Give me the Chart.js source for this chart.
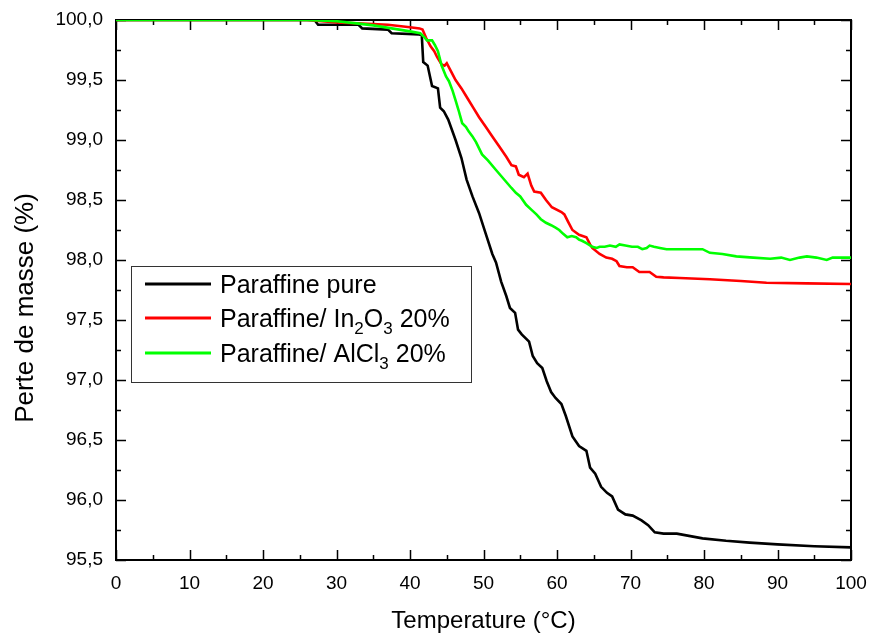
<!DOCTYPE html>
<html>
<head>
<meta charset="utf-8">
<script src="https://cdn.jsdelivr.net/npm/chart.js@4.4.1/dist/chart.umd.min.js"></script>
<style>
  html, body { margin: 0; padding: 0; background: #fff; }
  #atg { display: block; }
</style>
</head>
<body>
<canvas id="atg" width="869" height="639"></canvas>
<script>
// courbes ATG : température (°C) / perte de masse (%)
const tempPure = [0, 27, 27.5, 33, 33.5, 37, 37.5, 41.2, 41.6, 41.8, 42.4, 43.0, 43.8, 44.1, 44.6, 45.2, 46.2, 47.0, 47.7, 48.5,
  49.4, 50.3, 51.2, 51.7, 52.4, 53.1, 53.6, 54.3, 54.7, 55.2, 56.2, 56.7, 57.3, 58.0, 58.6, 59.2, 59.8, 60.6, 61.2, 62.1,
  63.0, 64.0, 64.5, 65.2, 66.0, 66.8, 67.5, 68.3, 69.3, 70.3, 71.5, 72.4, 73.3, 74.5, 76.3, 79.8, 83, 86.2, 90, 95, 100];
const massePure = [100.0, 100.0, 99.96, 99.96, 99.93, 99.92, 99.89, 99.88, 99.875, 99.65, 99.62, 99.45, 99.43, 99.27, 99.24, 99.17, 99.00, 98.85, 98.67, 98.53,
  98.39, 98.22, 98.05, 97.98, 97.82, 97.70, 97.60, 97.56, 97.42, 97.38, 97.32, 97.20, 97.14, 97.10, 96.99, 96.90, 96.85, 96.80, 96.70, 96.53,
  96.45, 96.41, 96.27, 96.22, 96.11, 96.06, 96.03, 95.92, 95.88, 95.87, 95.83, 95.79, 95.73, 95.72, 95.72, 95.68, 95.66, 95.645, 95.63, 95.615, 95.605];

const tempIn2O3 = [0, 26, 30, 37, 40, 41.3, 41.7, 42.2, 42.8, 43.3, 43.7, 44.3, 44.7, 45.0, 45.6, 46.2, 47.0, 47.8, 48.6, 49.4,
  50.3, 51.2, 52.1, 53.1, 53.8, 54.4, 54.8, 55.5, 56.0, 56.5, 56.9, 57.8, 58.5, 59.3, 60.6, 61.0, 61.5, 62.1, 63.0, 64.0,
  64.5, 64.8, 65.8, 66.7, 67.5, 68.1, 68.5, 69.5, 70.3, 71.2, 72.6, 73.5, 74.5, 76.7, 80.8, 85, 88.5, 94, 100];
const masseIn2O3 = [100.0, 100.0, 99.98, 99.96, 99.94, 99.93, 99.92, 99.85, 99.78, 99.74, 99.69, 99.63, 99.62, 99.64, 99.57, 99.50, 99.43, 99.35, 99.27, 99.19,
  99.11, 99.03, 98.95, 98.86, 98.79, 98.78, 98.71, 98.69, 98.72, 98.62, 98.57, 98.56, 98.50, 98.44, 98.40, 98.38, 98.32, 98.25, 98.21, 98.19,
  98.13, 98.10, 98.05, 98.02, 98.01, 97.99, 97.95, 97.94, 97.94, 97.90, 97.90, 97.86, 97.855, 97.85, 97.84, 97.825, 97.81, 97.805, 97.80];

const tempAlCl3 = [0, 26, 30, 33, 35, 37.5, 40, 41.4, 41.9, 42.3, 43.0, 43.4, 43.8, 44.3, 44.9, 45.3, 45.8, 46.2, 46.6, 47.1,
  47.6, 48.0, 48.5, 49.0, 49.8, 50.6, 51.7, 52.4, 53.1, 53.8, 54.4, 55.0, 55.8, 56.5, 57.2, 57.8, 58.5, 59.2, 59.8, 60.3,
  60.8, 61.4, 62.0, 62.6, 63.0, 63.4, 64.0, 64.8, 65.4, 65.8, 66.5, 67.2, 68.0, 68.5, 69.3, 70.2, 71.0, 71.6, 72.2, 72.6,
  73.2, 74.0, 74.9, 76.7, 78.5, 79.8, 80.8, 82.5, 84.4, 86.7, 89.0, 90.5, 91.7, 93.0, 94.0, 95.3, 96.7, 97.5, 99.0, 100];
const masseAlCl3 = [100.0, 100.0, 99.99, 99.97, 99.955, 99.93, 99.905, 99.89, 99.86, 99.83, 99.83, 99.79, 99.74, 99.62, 99.53, 99.49, 99.41, 99.33, 99.25, 99.14,
  99.11, 99.07, 99.03, 98.98, 98.88, 98.83, 98.75, 98.70, 98.65, 98.60, 98.56, 98.53, 98.46, 98.42, 98.38, 98.34, 98.31, 98.29, 98.27, 98.25,
  98.22, 98.19, 98.20, 98.19, 98.17, 98.16, 98.14, 98.11, 98.10, 98.11, 98.11, 98.12, 98.11, 98.13, 98.12, 98.11, 98.11, 98.09, 98.10, 98.12,
  98.11, 98.10, 98.09, 98.09, 98.09, 98.09, 98.06, 98.05, 98.03, 98.02, 98.01, 98.02, 98.00, 98.02, 98.03, 98.02, 98.00, 98.02, 98.02, 98.02];

// "_x" = indice
const seriesNames = ['Paraffine pure', 'Paraffine/ In_2O_3 20%', 'Paraffine/ AlCl_3 20%'];
const seriesColors = ['#000000', '#ff0000', '#00ff00'];

const xMajor = [0, 10, 20, 30, 40, 50, 60, 70, 80, 90, 100];
const xMinor = [5, 15, 25, 35, 45, 55, 65, 75, 85, 95];
const yMajor = [95.5, 96.0, 96.5, 97.0, 97.5, 98.0, 98.5, 99.0, 99.5, 100.0];
const yMinor = [95.75, 96.25, 96.75, 97.25, 97.75, 98.25, 98.75, 99.25, 99.75];

const xTitle = 'Temperature (°C)';
const yTitle = 'Perte de masse (%)';

const FONT = "'Liberation Sans', Arial, Helvetica, sans-serif";

function zip(xs, ys) {
    return xs.map((x, i) => ({ x: x, y: ys[i] }));
}

// texte avec indices (_2 -> 2 en indice)
function drawRich(ctx, text, x, y, size) {
    const parts = text.split(/_(.)/);
    let cx = x;
    parts.forEach((p, i) => {
        if (!p) return;
        const sub = i % 2 === 1;
        ctx.font = (sub ? Math.round(size * 0.68) : size) + 'px ' + FONT;
        ctx.fillText(p, cx, sub ? y + 7 : y);
        cx += ctx.measureText(p).width;
    });
}

// pas de marge automatique pour les étiquettes qui débordent
function noOverhang(s) {
    s.paddingLeft = 0;
    s.paddingRight = 0;
    s.paddingTop = 0;
    s.paddingBottom = 0;
}

// cadre + graduations vers l'intérieur sur les 4 côtés
const framePlugin = {
    id: 'frame',
    beforeDatasetsDraw(chart) {
        const { ctx, chartArea: a, scales: { x, y } } = chart;
        ctx.save();
        ctx.strokeStyle = '#000';
        ctx.lineWidth = 2;
        ctx.strokeRect(a.left, a.top, a.right - a.left, a.bottom - a.top);
        ctx.beginPath();
        const tick = (vals, len) => {
            vals.forEach(v => {
                const px = Math.round(x.getPixelForValue(v)) + 0.5;
                ctx.moveTo(px, a.bottom); ctx.lineTo(px, a.bottom - len);
                ctx.moveTo(px, a.top); ctx.lineTo(px, a.top + len);
            });
        };
        const ytick = (vals, len) => {
            vals.forEach(v => {
                const py = Math.round(y.getPixelForValue(v)) + 0.5;
                ctx.moveTo(a.left, py); ctx.lineTo(a.left + len, py);
                ctx.moveTo(a.right, py); ctx.lineTo(a.right - len, py);
            });
        };
        tick(xMajor, 10); tick(xMinor, 5);
        ytick(yMajor, 10); ytick(yMinor, 5);
        ctx.lineWidth = 1.5;
        ctx.stroke();
        ctx.restore();
    },
    afterDraw(chart) {
        const { ctx, chartArea: a } = chart;
        ctx.save();
        ctx.fillStyle = '#000';
        ctx.textBaseline = 'alphabetic';

        // titres des axes
        ctx.font = '24px ' + FONT;
        ctx.textAlign = 'center';
        ctx.fillText(xTitle, (a.left + a.right) / 2, 628);
        ctx.translate(33, 308);
        ctx.rotate(-Math.PI / 2);
        ctx.font = '26px ' + FONT;
        ctx.fillText(yTitle, 0, 0);
        ctx.restore();

        // légende
        ctx.save();
        ctx.fillStyle = '#fff';
        ctx.fillRect(131, 266, 341, 117);
        ctx.strokeStyle = '#333';
        ctx.lineWidth = 1;
        ctx.strokeRect(131.5, 266.5, 340, 116);
        const rows = [293, 327, 362];
        seriesNames.forEach((name, i) => {
            ctx.strokeStyle = seriesColors[i];
            ctx.lineWidth = 3;
            ctx.beginPath();
            ctx.moveTo(145, rows[i] - 9);
            ctx.lineTo(211, rows[i] - 9);
            ctx.stroke();
            ctx.fillStyle = '#000';
            ctx.textAlign = 'left';
            drawRich(ctx, name, 220, rows[i], 25);
        });
        ctx.restore();
    }
};

const datasets = [
    zip(tempPure, massePure),
    zip(tempIn2O3, masseIn2O3),
    zip(tempAlCl3, masseAlCl3)
].map((pts, i) => ({
    label: seriesNames[i].replace(/_/g, ''),
    data: pts,
    borderColor: seriesColors[i],
    borderWidth: 2.6,
    pointRadius: 0,
    tension: 0,
    fill: false
}));
// ordre de tracé : noir au fond, vert au-dessus
datasets[0].order = 3;
datasets[1].order = 2;
datasets[2].order = 1;

new Chart(document.getElementById('atg'), {
    type: 'line',
    data: { datasets: datasets },
    options: {
        responsive: false,
        animation: false,
        devicePixelRatio: 1,
        layout: { padding: { top: 20, right: 18, left: 0, bottom: 0 } },
        plugins: {
            legend: { display: false },
            tooltip: { enabled: false }
        },
        scales: {
            x: {
                type: 'linear',
                min: 0,
                max: 100,
                afterBuildTicks: s => { s.ticks = xMajor.map(v => ({ value: v })); },
                afterFit: s => { s.height = 79; noOverhang(s); },
                grid: { display: false, drawTicks: false },
                border: { display: false },
                ticks: {
                    padding: 12,
                    maxRotation: 0,
                    color: '#000',
                    font: { family: FONT, size: 19 },
                    callback: v => String(v)
                }
            },
            y: {
                type: 'linear',
                min: 95.5,
                max: 100,
                afterBuildTicks: s => { s.ticks = yMajor.map(v => ({ value: v })); },
                afterFit: s => { s.width = 116; noOverhang(s); },
                grid: { display: false, drawTicks: false },
                border: { display: false },
                ticks: {
                    padding: 13,
                    color: '#000',
                    font: { family: FONT, size: 19 },
                    callback: v => v.toFixed(1).replace('.', ',')
                }
            }
        }
    },
    plugins: [framePlugin]
});
</script>
</body>
</html>
